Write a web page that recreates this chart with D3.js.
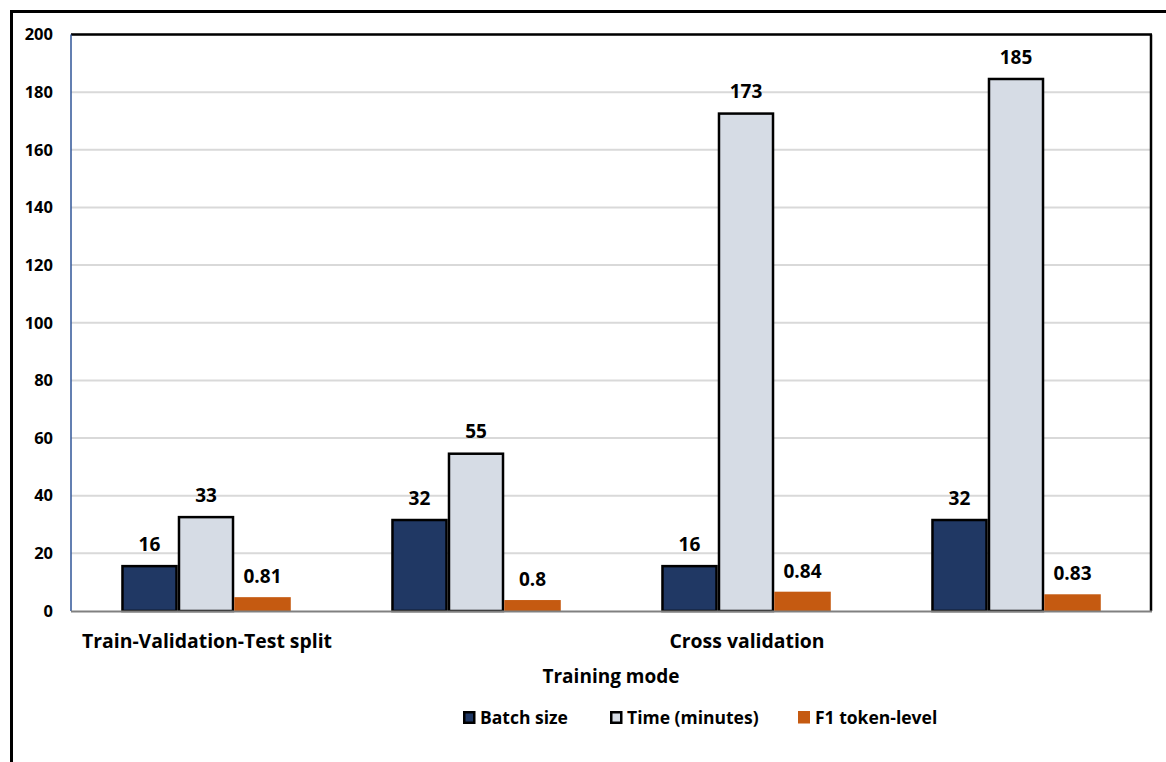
<!DOCTYPE html>
<html>
<head>
<meta charset="utf-8">
<script src="https://cdn.jsdelivr.net/npm/d3@7"></script>
<style>
  html, body { margin: 0; padding: 0; background: #fff; }
  svg { display: block; }
  text { font-family: "Open Sans", Lato, sans-serif; font-weight: 700; fill: #000; }
</style>
</head>
<body>
<svg id="chart" width="1166" height="762"></svg>
<script>
// ---- data ----
const categories = ["g1", "g2", "g3", "g4"];
const categoryLabels = ["Train-Validation-Test split", "", "Cross validation", ""];
const seriesNames = ["Batch size", "Time (minutes)", "F1 token-level"];
const batchSize = [16, 32, 16, 32];
const timeMinutes = [33, 55, 173, 185];
const f1Labels = ["0.81", "0.8", "0.84", "0.83"];
const f1BarHeights = [4.8, 3.8, 6.7, 5.8];   // plotted height on the axis
const yTicks = [0, 20, 40, 60, 80, 100, 120, 140, 160, 180, 200];
const xTitle = "Training mode";

const colors = { batch: "#203864", time: "#D6DCE5", f1: "#C55A11" };

const svg = d3.select("#chart");
const W = 1166, H = 762;
const plot = { left: 71, right: 1151, top: 34.5, bottom: 611 };

// outer frame
svg.append("rect").attr("x", 11.5).attr("y", 11.5).attr("width", W + 50).attr("height", H + 50)
  .attr("fill", "none").attr("stroke", "#000").attr("stroke-width", 3);

const x = d3.scaleBand().domain(categories).range([plot.left, plot.right])
  .paddingInner(0.372).paddingOuter(0.186);
const xs = d3.scaleBand().domain(seriesNames).range([0, x.bandwidth()]);
const y = d3.scaleLinear().domain([0, 200]).range([plot.bottom, plot.top]);

// gridlines
svg.append("g").selectAll("line").data(yTicks.filter(t => t > 0)).join("line")
  .attr("x1", plot.left).attr("x2", plot.right)
  .attr("y1", d => y(d)).attr("y2", d => y(d))
  .attr("stroke", "#D9D9D9").attr("stroke-width", 2);

// y axis labels
const yAxis = d3.axisLeft(y).tickValues(yTicks).tickSize(0).tickPadding(18);
const ya = svg.append("g").attr("transform", `translate(${plot.left},0)`).call(yAxis);
ya.select(".domain").remove();
ya.selectAll("text").attr("font-size", 16.5).attr("font-family", "'Open Sans', sans-serif").attr("font-weight", 700).attr("fill", "#000");

const rows = categories.map((c, i) => ({
  cat: c,
  bars: [
    { s: seriesNames[0], v: batchSize[i], label: String(batchSize[i]), fill: colors.batch, stroke: "#000" },
    { s: seriesNames[1], v: timeMinutes[i], label: String(timeMinutes[i]), fill: colors.time, stroke: "#000" },
    { s: seriesNames[2], v: f1BarHeights[i], label: f1Labels[i], fill: colors.f1, stroke: "none" }
  ]
}));

const groups = svg.append("g").selectAll("g").data(rows).join("g")
  .attr("transform", d => `translate(${x(d.cat)},0)`);

groups.selectAll("rect").data(d => d.bars).join("rect")
  .attr("x", d => xs(d.s) + (d.stroke === "none" ? 0 : 1.25))
  .attr("width", d => xs.bandwidth() - (d.stroke === "none" ? 0 : 2.5))
  .attr("y", d => y(d.v) + (d.stroke === "none" ? 0 : 1.25))
  .attr("height", d => y(0) - y(d.v) - (d.stroke === "none" ? 0 : 1.25))
  .attr("fill", d => d.fill)
  .attr("stroke", d => d.stroke)
  .attr("stroke-width", 2.5);

groups.selectAll("text").data(d => d.bars).join("text")
  .attr("x", d => xs(d.s) + xs.bandwidth() / 2)
  .attr("y", d => y(d.v) - 14)
  .attr("text-anchor", "middle")
  .attr("font-size", 19)
  .text(d => d.label);

// plot border: top and right black, left thin blue
svg.append("line").attr("x1", plot.left).attr("x2", plot.right + 1).attr("y1", plot.top).attr("y2", plot.top)
  .attr("stroke", "#000").attr("stroke-width", 2.5);
svg.append("line").attr("x1", plot.right).attr("x2", plot.right).attr("y1", plot.top).attr("y2", plot.bottom)
  .attr("stroke", "#000").attr("stroke-width", 2.5);
svg.append("line").attr("x1", plot.left).attr("x2", plot.left).attr("y1", plot.top).attr("y2", plot.bottom)
  .attr("stroke", "#2F5597").attr("stroke-width", 1.5);

// x axis baseline
svg.append("line").attr("x1", plot.left).attr("x2", plot.right + 1).attr("y1", plot.bottom + 0.5).attr("y2", plot.bottom + 0.5)
  .attr("stroke", "#808080").attr("stroke-width", 2);

// category labels
svg.append("g").selectAll("text").data(categories).join("text")
  .attr("x", d => x(d) + x.bandwidth() / 2 + 1)
  .attr("y", 648)
  .attr("text-anchor", "middle")
  .attr("font-size", 19.4)
  .text((d, i) => categoryLabels[i]);

// axis title
svg.append("text").attr("x", 611).attr("y", 683).attr("text-anchor", "middle")
  .attr("font-size", 19).text(xTitle);

// legend
const legendX = [463, 610, 798];
const legendFill = [colors.batch, colors.time, colors.f1];
const legendStroke = ["#000", "#000", "none"];
const lg = svg.append("g").selectAll("g").data(seriesNames).join("g")
  .attr("transform", (d, i) => `translate(${legendX[i]},711)`);
lg.append("rect")
  .attr("x", (d, i) => legendStroke[i] === "none" ? 0 : 1.25)
  .attr("y", (d, i) => legendStroke[i] === "none" ? 0 : 1.25)
  .attr("width", (d, i) => legendStroke[i] === "none" ? 12 : 10)
  .attr("height", (d, i) => legendStroke[i] === "none" ? 12.5 : 10.5)
  .attr("fill", (d, i) => legendFill[i])
  .attr("stroke", (d, i) => legendStroke[i])
  .attr("stroke-width", 2.5);
lg.append("text").attr("x", 17).attr("y", 13).attr("font-size", 17.5).text(d => d);
</script>
</body>
</html>
